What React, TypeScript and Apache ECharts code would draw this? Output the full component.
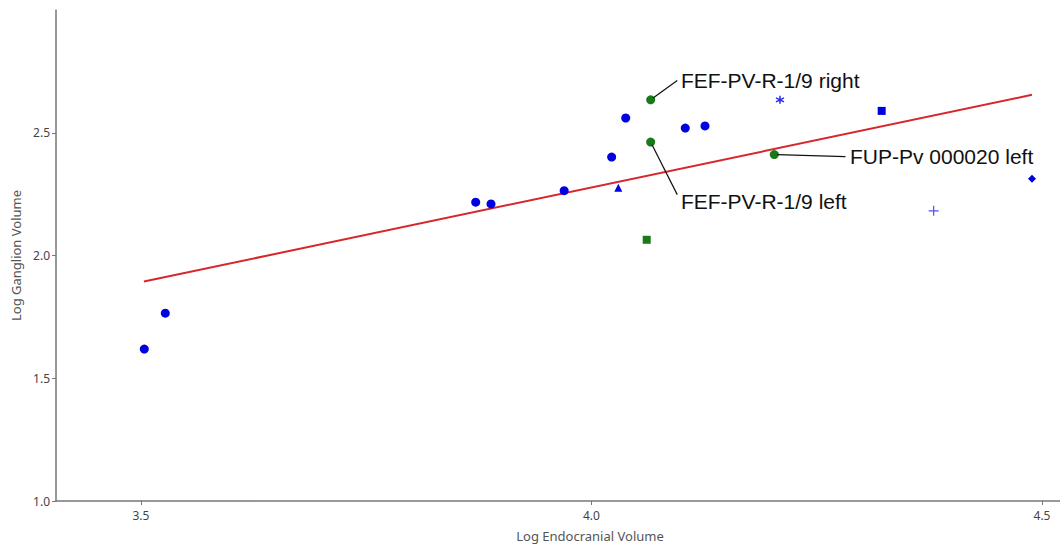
import React, { useEffect, useRef } from "react";
import * as echarts from "echarts";

// ---- data ----
const blueCircleX = [3.5037, 3.527, 3.8715, 3.8885, 3.9697, 4.0224, 4.038, 4.1041, 4.126];
const blueCircleY = [1.619, 1.765, 2.217, 2.21, 2.264, 2.401, 2.56, 2.519, 2.528];
const blueTriangleX = [4.0298];
const blueTriangleY = [2.276];
const greenCircleX = [4.0657, 4.0657, 4.2029];
const greenCircleY = [2.634, 2.462, 2.411];
const greenSquareX = [4.0613];
const greenSquareY = [2.064];
const blueSquareX = [4.3221];
const blueSquareY = [2.589];
const starX = [4.2092];
const starY = [2.634];
const plusX = [4.3798];
const plusY = [2.182];
const diamondX = [4.4889];
const diamondY = [2.313];

const fitLineX = [3.5033, 4.4889];
const fitLineY = [1.894, 2.6545];

const xTicks = [3.5, 4.0, 4.5];
const yTicks = [1.0, 1.5, 2.0, 2.5];

// annotations (data coordinates)
const annotationTexts = ["FEF-PV-R-1/9 right", "FEF-PV-R-1/9 left", "FUP-Pv 000020 left"];
const annotationPointX = [4.0657, 4.0657, 4.2029];
const annotationPointY = [2.634, 2.462, 2.411];
const leaderEndX = [4.0952, 4.0952, 4.2819];
const leaderEndY = [2.7126, 2.248, 2.4024];
const labelX = [4.0993, 4.0993, 4.2869];
const labelY = [2.7126, 2.2207, 2.4024];

const zip = (xs: number[], ys: number[]) => xs.map((x, i) => [x, ys[i]]);

const BLUE = "#0000e0";
const GREEN = "#1a7a1a";

export default function App() {
  const ref = useRef<HTMLDivElement>(null);
  useEffect(() => {
    if (!ref.current) return;
    const chart = echarts.init(ref.current, null, { renderer: "svg" });
    const axisFont = { fontFamily: "'Noto Sans', 'Open Sans', sans-serif", fontSize: 12, color: "#444" };
    const scatter = (data: number[][], symbol: string, size: number, itemStyle: any) => ({
      type: "scatter",
      data,
      symbol,
      symbolSize: size,
      itemStyle: { opacity: 1, ...itemStyle },
      z: 3,
    });
    const option: any = {
      animation: false,
      backgroundColor: "#ffffff",
      grid: { left: 56, right: 0, top: 10, bottom: 45, containLabel: false },
      xAxis: {
        type: "value",
        min: 3.4057,
        max: 4.52,
        name: "Log Endocranial Volume",
        nameLocation: "middle",
        nameGap: 28,
        nameTextStyle: { ...axisFont, color: "#555", fontSize: 13, padding: [0, 0, 0, 64] },
        axisLine: { show: true, lineStyle: { color: "#777", width: 1.5 } },
        axisTick: { show: true, length: 4, lineStyle: { color: "#777" }, customValues: xTicks },
        axisLabel: { ...axisFont, margin: 8, customValues: xTicks, formatter: (v: number) => v.toFixed(1) },
        splitLine: { show: false },
      },
      yAxis: {
        type: "value",
        min: 1,
        max: 3,
        name: "Log Ganglion Volume",
        nameLocation: "middle",
        nameGap: 32,
        nameTextStyle: { ...axisFont, color: "#555", fontSize: 13 },
        axisLine: { show: true, lineStyle: { color: "#777", width: 1.5 } },
        axisTick: { show: true, length: 4, lineStyle: { color: "#777" }, customValues: yTicks },
        axisLabel: { ...axisFont, margin: 6, customValues: yTicks, formatter: (v: number) => v.toFixed(1) },
        splitLine: { show: false },
      },
      series: [
        {
          type: "line",
          data: zip(fitLineX, fitLineY),
          symbol: "none",
          lineStyle: { color: "#d8262b", width: 2 },
          z: 2,
        },
        scatter(zip(blueCircleX, blueCircleY), "circle", 9, { color: BLUE }),
        scatter(zip(blueTriangleX, blueTriangleY), "triangle", 8, { color: BLUE }),
        scatter(zip(greenCircleX, greenCircleY), "circle", 9, { color: GREEN }),
        scatter(zip(greenSquareX, greenSquareY), "rect", 8, { color: GREEN }),
        scatter(zip(blueSquareX, blueSquareY), "rect", 8, { color: BLUE }),
        scatter(zip(diamondX, diamondY), "diamond", 8, { color: BLUE }),
        scatter(
          zip(starX, starY),
          "path://M5,0L5,10M0.67,2.5L9.33,7.5M0.67,7.5L9.33,2.5",
          8,
          { color: "rgba(0,0,0,0)", borderColor: "#2a2af0", borderWidth: 1.5 }
        ),
        scatter(
          zip(plusX, plusY),
          "path://M0,5L10,5M5,0L5,10",
          10,
          { color: "rgba(0,0,0,0)", borderColor: "#5050f0", borderWidth: 1.2 }
        ),
      ],
    };
    chart.setOption(option);

    const graphics: any[] = [];
    annotationTexts.forEach((t, i) => {
      const p = chart.convertToPixel({ gridIndex: 0 }, [annotationPointX[i], annotationPointY[i]]) as number[];
      const e = chart.convertToPixel({ gridIndex: 0 }, [leaderEndX[i], leaderEndY[i]]) as number[];
      const l = chart.convertToPixel({ gridIndex: 0 }, [labelX[i], labelY[i]]) as number[];
      const dx = e[0] - p[0];
      const dy = e[1] - p[1];
      const len = Math.sqrt(dx * dx + dy * dy) || 1;
      const sx = p[0] + (dx / len) * 3;
      const sy = p[1] + (dy / len) * 3;
      graphics.push({
        type: "line",
        shape: { x1: sx, y1: sy, x2: e[0], y2: e[1] },
        style: { stroke: "#111", lineWidth: 1.2 },
        z: 10,
      });
      graphics.push({
        type: "text",
        x: l[0],
        y: l[1],
        style: {
          text: t,
          fill: "#111",
          font: "21px 'Liberation Sans', Arial, sans-serif",
          textAlign: "left",
          textVerticalAlign: "middle",
        },
        z: 10,
      });
    });
    chart.setOption({ graphic: graphics });

    return () => chart.dispose();
  }, []);
  return <div ref={ref} style={{ position: "fixed", left: 0, top: 0, width: 1060, height: 547 }} />;
}
